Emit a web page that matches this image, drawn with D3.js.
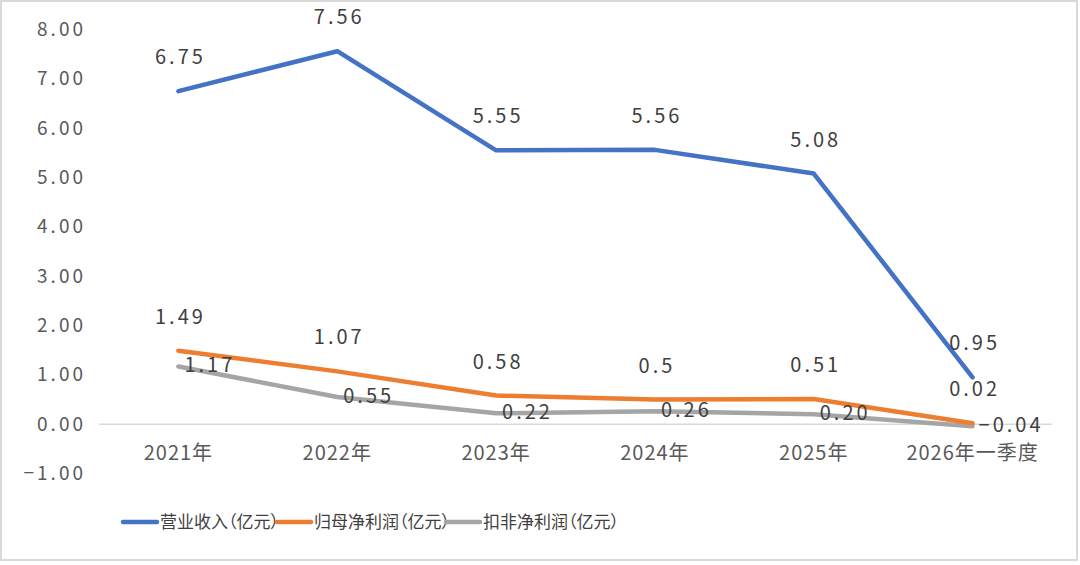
<!DOCTYPE html>
<html lang="zh">
<head>
<meta charset="UTF-8">
<title>营业收入与净利润</title>
<style>
  body { margin: 0; background: #fff; }
  svg { display: block; font-family: "Noto Sans CJK SC", "Noto Sans", sans-serif; }
  .tick text { fill: #595959; font-size: 20px; letter-spacing: 1px; }
  .ytick text { font-size: 19px; letter-spacing: 3px; }
  .dlabel { fill: #404040; font-size: 20px; letter-spacing: 3px; }
  .legend text { fill: #404040; font-size: 17px; font-feature-settings: "palt"; }
</style>
</head>
<body>
<svg id="chart" width="1080" height="565"></svg>
<script src="https://d3js.org/d3.v7.min.js"></script>
<script>
const categories = ["2021年", "2022年", "2023年", "2024年", "2025年", "2026年一季度"];
const revenue   = [6.75, 7.56, 5.55, 5.56, 5.08, 0.95];
const netProfit = [1.49, 1.07, 0.58, 0.5, 0.51, 0.02];
const deducted  = [1.17, 0.55, 0.22, 0.26, 0.20, -0.04];
const revenueLabels   = ["6.75", "7.56", "5.55", "5.56", "5.08", "0.95"];
const netLabels       = ["1.49", "1.07", "0.58", "0.5", "0.51", "0.02"];
const deductedLabels  = ["1.17", "0.55", "0.22", "0.26", "0.20", "−0.04"];
const yTicks = [-1, 0, 1, 2, 3, 4, 5, 6, 7, 8];

const series = [
  { name: "营业收入（亿元）", values: revenue, labels: revenueLabels, color: "#4472C4", pos: "above" },
  { name: "归母净利润（亿元）", values: netProfit, labels: netLabels, color: "#ED7D31", pos: "above" },
  { name: "扣非净利润（亿元）", values: deducted, labels: deductedLabels, color: "#A5A5A5", pos: "right" }
];

const svg = d3.select("#chart");

// outer frame
svg.append("rect")
  .attr("x", 1).attr("y", 1).attr("width", 1076).attr("height", 559)
  .attr("fill", "none").attr("stroke", "#d9d9d9").attr("stroke-width", 2);

const x = d3.scaleBand().domain(categories).range([99, 1052]);
const y = d3.scaleLinear().domain([-1, 8]).range([473.5, 29.5]);

// y axis labels
const yAxis = svg.append("g")
  .attr("class", "ytick")
  .attr("transform", "translate(86,0)")
  .call(d3.axisLeft(y).tickValues(yTicks).tickSize(0).tickPadding(0)
    .tickFormat(d => d3.format(".2f")(d).replace("-", "−")));
yAxis.attr("font-family", null).attr("font-size", null);
yAxis.select(".domain").remove();

// zero line
svg.append("line")
  .attr("x1", 99).attr("x2", 1052)
  .attr("y1", y(0)).attr("y2", y(0))
  .attr("stroke", "#d9d9d9").attr("stroke-width", 1.5);

// x axis labels
const xAxis = svg.append("g")
  .attr("transform", `translate(0,${y(0)})`)
  .call(d3.axisBottom(x).tickSize(0).tickPadding(22));
xAxis.attr("font-family", null).attr("font-size", null);
xAxis.select(".domain").remove();

const cx = d => x(d) + x.bandwidth() / 2;

const line = d3.line()
  .x((d, i) => cx(categories[i]))
  .y(d => y(d));

// draw in reverse so blue sits on top
series.slice().reverse().forEach(s => {
  svg.append("path")
    .datum(s.values)
    .attr("d", line)
    .attr("fill", "none")
    .attr("stroke", s.color)
    .attr("stroke-width", 4.5)
    .attr("stroke-linejoin", "round")
    .attr("stroke-linecap", "round");
});

// data labels
series.forEach(s => {
  svg.append("g").selectAll("text")
    .data(s.values)
    .join("text")
    .attr("class", "dlabel")
    .attr("x", (d, i) => s.pos === "right" ? cx(categories[i]) + 6 : cx(categories[i]) + 2)
    .attr("y", d => s.pos === "right" ? y(d) + 6 : y(d) - 34 + 7)
    .attr("text-anchor", s.pos === "right" ? "start" : "middle")
    .text((d, i) => s.labels[i]);
});

// legend
const legendX = [123, 277, 446];
const legend = svg.append("g").attr("class", "legend");
series.forEach((s, i) => {
  const g = legend.append("g").attr("transform", `translate(${legendX[i]},522)`);
  g.append("line")
    .attr("x1", 0).attr("x2", 34).attr("y1", 0).attr("y2", 0)
    .attr("stroke", s.color).attr("stroke-width", 4.5).attr("stroke-linecap", "round");
  g.append("text").attr("x", 37).attr("y", 6).text(s.name);
});
</script>
</body>
</html>
